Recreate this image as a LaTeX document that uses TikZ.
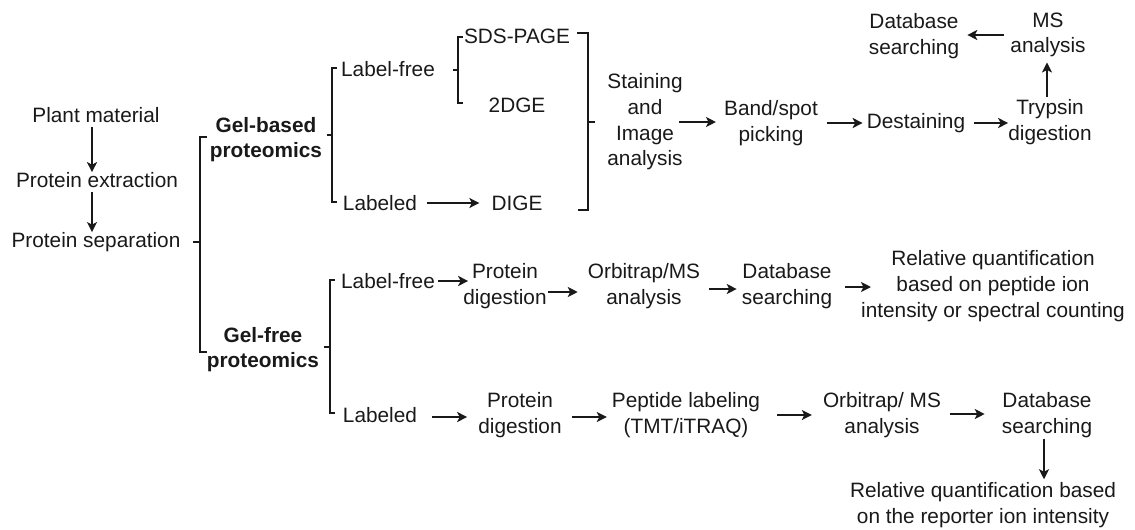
\documentclass[tikz,border=0pt]{standalone}
\usepackage{fontspec}
\setmainfont{Liberation Sans}
\usetikzlibrary{arrows.meta}
\begin{document}
\begin{tikzpicture}[x=1pt,y=-1pt,
  lbl/.style={inner sep=0pt, align=center, text=black!90, font=\fontsize{20.8}{25.7}\selectfont},
  bold/.style={lbl, font=\fontsize{20.8}{25}\selectfont\bfseries},
  arr/.style={line width=2pt, draw=black!90, -{Stealth[length=10pt,width=10pt,inset=2.5pt]}},
  brk/.style={line width=2pt, draw=black!90}]
\useasboundingbox (0,0) rectangle (1135,530);

% ---- sample preparation column
\node[lbl] (pm) at (96,115) {Plant material};
\node[lbl] (pe) at (97,180) {Protein extraction};
\node[lbl] (ps) at (96,242) {Protein separation};
\draw[arr] ([xshift=-4pt]pm.south) -- ([xshift=-5pt]pe.north) [shorten <=4pt];
\draw[arr] ([xshift=-5pt]pe.south) -- ([xshift=-4pt]ps.north) [shorten <=4pt];

% ---- main split
\coordinate (b1t) at (200,137);
\coordinate (b1b) at (200,352);
\coordinate (b1m) at (200,242);
\draw[brk] ([xshift=7pt]b1t) -- (b1t) -- (b1b) -- ([xshift=7pt]b1b);
\draw[brk] ([xshift=-7pt]b1m) -- (b1m);

\node[bold] (gb) at (266,140) {Gel-based\\proteomics};
\node[bold] (gf) at (263,350) {Gel-free\\proteomics};

% ---- gel-based branch
\coordinate (b2t) at (332,68);
\coordinate (b2b) at (332,202);
\coordinate (b2m) at (332,135);
\draw[brk] ([xshift=5pt]b2t) -- (b2t) -- (b2b) -- ([xshift=5pt]b2b);
\draw[brk] ([xshift=-5pt]b2m) -- (b2m);

\node[lbl] (lf1) at (388,69) {Label-free};
\node[lbl] (lb1) at (380,203) {Labeled};
\node[lbl] (dige) at (517,203) {DIGE};
\draw[arr] (lb1.east) -- (lb1.east -| dige.west) [shorten <=10pt, shorten >=12pt];

\coordinate (b3t) at (458,37);
\coordinate (b3b) at (458,103);
\coordinate (b3m) at (458,70);
\draw[brk] ([xshift=5pt]b3t) -- (b3t) -- (b3b) -- ([xshift=5pt]b3b);
\draw[brk] ([xshift=-5pt]b3m) -- (b3m);

\node[lbl] (sds) at (517,36) {SDS-PAGE};
\node[lbl] (dge) at (517,105) {2DGE};

\coordinate (b4t) at (588,33);
\coordinate (b4b) at (588,210);
\coordinate (b4m) at (588,122);
\draw[brk] ([xshift=-11pt]b4t) -- (b4t) -- (b4b) -- ([xshift=-10pt]b4b);
\draw[brk] (b4m) -- ([xshift=7pt]b4m);

\node[lbl] (stain) at (645,122) {Staining\\and\\Image\\analysis};
\node[lbl] (band) at (771,123) {Band/spot\\picking};
\node[lbl] (dest) at (916,123) {Destaining};
\node[lbl] (tryp) at (1050,122) {Trypsin\\digestion};
\node[lbl] (ms) at (1048,35) {MS\\analysis};
\node[lbl] (db1) at (914,36) {Database\\searching};

\draw[arr] (stain.east) -- (stain.east -| band.west) [shorten <=-4pt, shorten >=8pt];
\draw[arr] (band.east) -- (band.east -| dest.west) [shorten <=9pt, shorten >=4pt];
\draw[arr] (dest.east) -- (dest.east -| tryp.west) [shorten <=9pt, shorten >=0pt];
\draw[arr] ([xshift=-3pt]tryp.north) -- ([xshift=-3pt]tryp.north |- ms.south) [shorten <=2pt, shorten >=5pt];
\draw[arr] (ms.west) -- (ms.west -| db1.east) [shorten <=6pt, shorten >=8pt];

% ---- gel-free branch
\coordinate (b5t) at (330,280);
\coordinate (b5b) at (330,413);
\coordinate (b5m) at (330,347);
\draw[brk] ([xshift=5pt]b5t) -- (b5t) -- (b5b) -- ([xshift=5pt]b5b);
\draw[brk] ([xshift=-6pt]b5m) -- (b5m);

\node[lbl] (lf2) at (388,281) {Label-free};
\node[lbl] (pd1) at (505,286) {Protein\\digestion};
\node[lbl] (orb1) at (644,286) {Orbitrap/MS\\analysis};
\node[lbl] (db2) at (787,286) {Database\\searching};
\node[lbl] (rq1) at (993,286) {Relative quantification\\based on peptide ion\\intensity or spectral counting};

\draw[arr] (lf2.east) -- (lf2.east -| pd1.west) [shorten <=3pt, shorten >=-5pt];
\draw[arr] ([yshift=-6pt]pd1.east) -- ([yshift=-6pt]pd1.east -| orb1.west) [shorten <=1pt, shorten >=10pt];
\draw[arr] ([yshift=-3pt]orb1.east) -- ([yshift=-3pt]orb1.east -| db2.west) [shorten <=9pt, shorten >=5pt];
\draw[arr] ([yshift=-1pt]db2.east) -- ([yshift=-1pt]db2.east -| rq1.west) [shorten <=13pt, shorten >=-10pt];

\node[lbl] (lb2) at (380,415) {Labeled};
\node[lbl] (pd2) at (520,415) {Protein\\digestion};
\node[lbl] (pep) at (686,415) {Peptide labeling\\(TMT/iTRAQ)};
\node[lbl] (orb2) at (882,415) {Orbitrap/ MS\\analysis};
\node[lbl] (db3) at (1047,415) {Database\\searching};
\node[lbl] (rq2) at (983,505) {Relative quantification based\\on the reporter ion intensity};

\draw[arr] ([yshift=-2pt]lb2.east) -- ([yshift=-2pt]lb2.east -| pd2.west) [shorten <=15pt, shorten >=11pt];
\draw[arr] ([yshift=-2pt]pd2.east) -- ([yshift=-2pt]pd2.east -| pep.west) [shorten <=10pt, shorten >=5pt];
\draw[arr] (pep.east) -- (pep.east -| orb2.west) [shorten <=17pt, shorten >=11pt];
\draw[arr] ([yshift=1pt]orb2.east) -- ([yshift=1pt]orb2.east -| db3.west) [shorten <=9pt, shorten >=17pt];
\draw[arr] ([xshift=-3pt]db3.south) -- ([xshift=-3pt]db3.south |- rq2.north) [shorten <=1pt, shorten >=3pt];
\end{tikzpicture}
\end{document}
